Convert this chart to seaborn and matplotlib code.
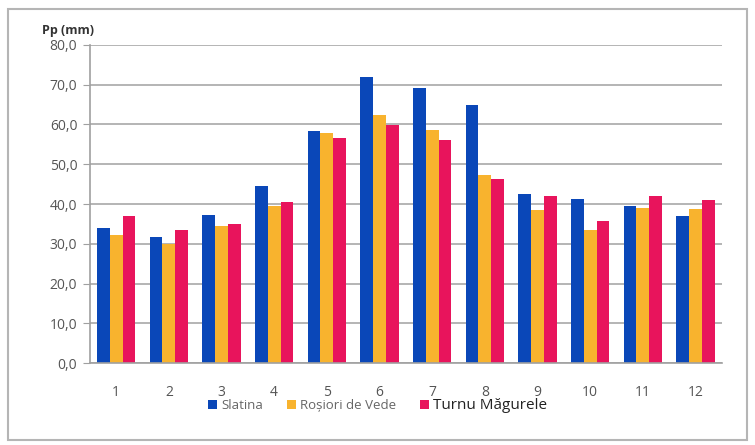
import pandas as pd
import matplotlib.pyplot as plt
import seaborn as sns
from matplotlib.patches import Rectangle

# Data
months = [1, 2, 3, 4, 5, 6, 7, 8, 9, 10, 11, 12]
slatina = [34.0, 31.8, 37.2, 44.6, 58.4, 72.0, 69.2, 64.8, 42.4, 41.3, 39.5, 37.0]
rosiori = [32.2, 29.9, 34.4, 39.6, 57.8, 62.4, 58.6, 47.2, 38.4, 33.4, 39.0, 38.8]
turnu = [37.0, 33.4, 35.0, 40.4, 56.5, 59.8, 56.1, 46.4, 42.1, 35.8, 41.9, 41.1]
stations = ['Slatina', 'Roșiori de Vede', 'Turnu Măgurele']
colors = ['#0a47b8', '#f8b32e', '#e8145c']

df = pd.DataFrame({'month': months * 3,
                   'pp': slatina + rosiori + turnu,
                   'station': [s for s in stations for _ in months]})

sns.set_style('white')
plt.rcParams['font.family'] = ['Open Sans', 'DejaVu Sans']

fig = plt.figure(figsize=(7.55, 4.45), dpi=100)
ax = fig.add_axes([0.119, 0.184, 0.837, 0.715])

sns.barplot(data=df, x='month', y='pp', hue='station', palette=colors,
            width=0.73, gap=0, edgecolor='none', saturation=1, ax=ax)

# Axes styling
ax.set_ylim(0, 80)
ax.set_yticks(range(0, 81, 10))
ax.set_yticklabels([f'{v},0' for v in range(0, 81, 10)])
ax.yaxis.grid(True, color='#a8a8a8', linewidth=1.2)
ax.set_axisbelow(True)
ax.set_xlim(-0.5, 11.5)
ax.set_xlabel('')
ax.set_ylabel('')
for side in ['top', 'right']:
    ax.spines[side].set_visible(False)
for side in ['left', 'bottom']:
    ax.spines[side].set_color('#a0a0a0')
    ax.spines[side].set_linewidth(1.2)
ax.tick_params(axis='y', colors='#a0a0a0', labelcolor='#555555', labelsize=10,
               left=True, length=5, pad=4)
ax.tick_params(axis='x', labelcolor='#555555', labelsize=10, pad=12)

ax.text(-0.075, 1.025, 'Pp (mm)', transform=ax.transAxes, fontsize=9,
        fontweight='bold', color='#333333', va='bottom', ha='left')

# Legend below the axis
handles, labels = ax.get_legend_handles_labels()
ax.legend_.remove()
leg = fig.legend(handles, labels, loc='center', bbox_to_anchor=(0.5, 0.088),
                 ncol=3, frameon=False, fontsize=9.5, handlelength=0.7,
                 handleheight=0.7, handletextpad=0.3, columnspacing=1.8)
for t in leg.get_texts()[:2]:
    t.set_color('#666666')
leg.get_texts()[2].set_fontsize(11)
leg.get_texts()[2].set_color('#222222')

# Outer chart frame
fig.patches.append(Rectangle((0.011, 0.012), 0.978, 0.968, transform=fig.transFigure,
                             fill=False, edgecolor='#b5b5b5', linewidth=1.5))

fig.savefig('out.png', dpi=100)
